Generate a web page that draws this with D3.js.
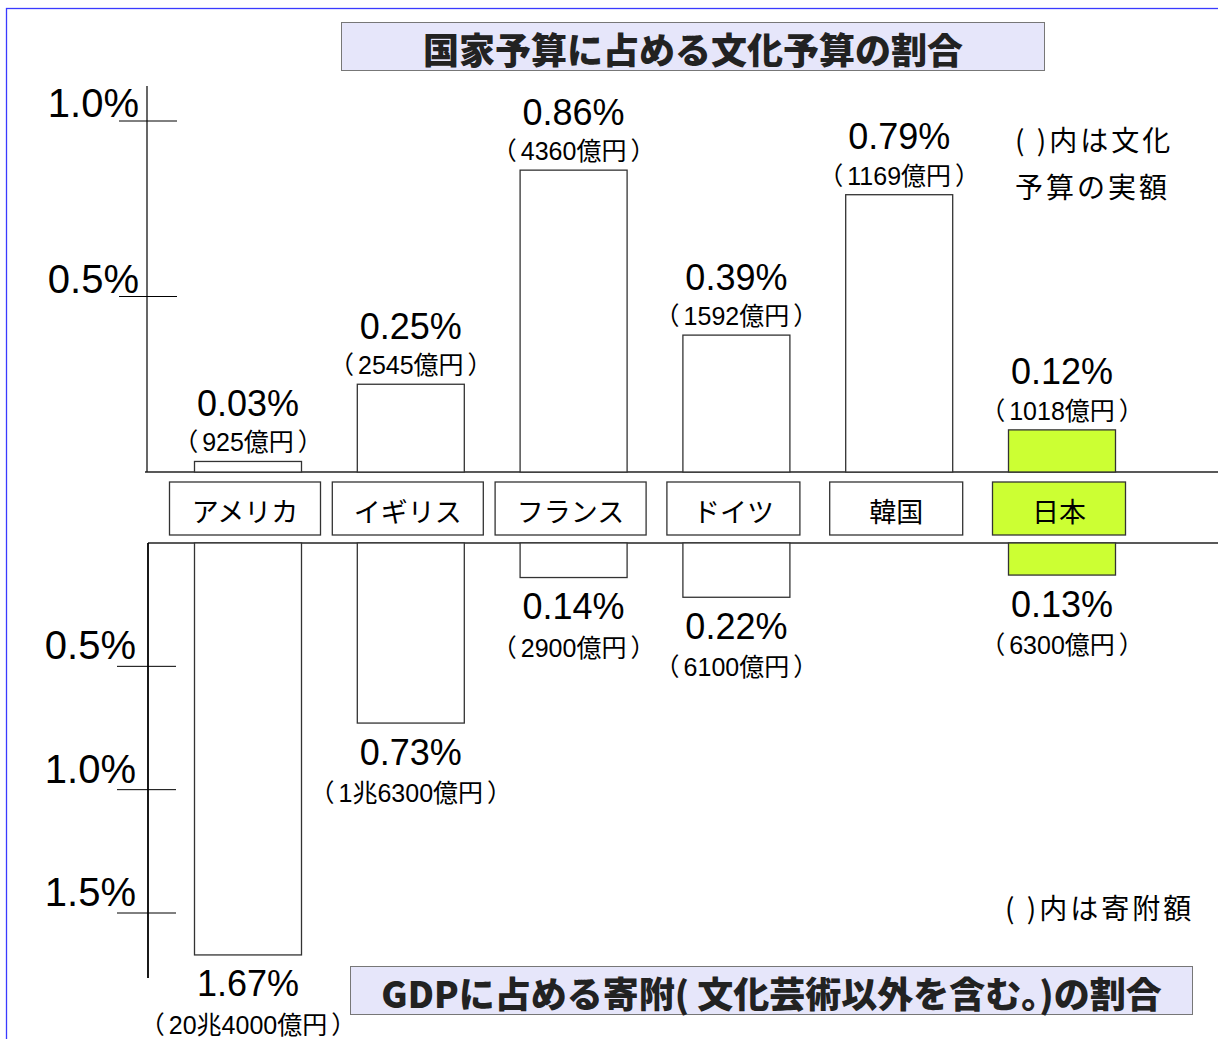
<!DOCTYPE html>
<html>
<head>
<meta charset="utf-8">
<script src="https://cdn.jsdelivr.net/npm/d3@7"></script>
<style>
  body { margin: 0; background: #fff; }
  text { font-family: "Liberation Sans", "Noto Sans CJK JP", sans-serif; }
</style>
</head>
<body>
<div id="chart"></div>
<script>
// data
const countries = ['アメリカ', 'イギリス', 'フランス', 'ドイツ', '韓国', '日本'];
const budgetShare = [0.03, 0.25, 0.86, 0.39, 0.79, 0.12];
const budgetAmount = ['925億円', '2545億円', '4360億円', '1592億円', '1169億円', '1018億円'];
const donationShare = [1.67, 0.73, 0.14, 0.22, null, 0.13];
const donationAmount = ['20兆4000億円', '1兆6300億円', '2900億円', '6100億円', null, '6300億円'];
const topTicks = [0.5, 1.0];
const bottomTicks = [0.5, 1.0, 1.5];
const highlight = '日本';

const width = 1218, height = 1039;
const jp = '"Noto Sans CJK JP", sans-serif';

const svg = d3.select('#chart').append('svg')
    .attr('width', width).attr('height', height);

// outer blue frame
svg.append('rect')
    .attr('x', 6.5).attr('y', 8.5)
    .attr('width', width).attr('height', height)
    .attr('fill', 'none').attr('stroke', '#3a3aff').attr('stroke-width', 1.3);

const x = d3.scalePoint().domain(countries).range([248, 1062]);
const barW = 107;
const yTop = d3.scaleLinear().domain([0, 1]).range([472, 121]);
const yBot = d3.scaleLinear().domain([0, 1.5]).range([543, 913]);

const fillOf = c => c === highlight ? '#ccff33' : '#fff';

// "(amount)" label with a little air inside the brackets
function amountLabel(sel) {
    sel.append('tspan').text('（');
    sel.append('tspan').attr('dx', 4).text(d => d);
    sel.append('tspan').attr('dx', 4).text('）');
}

// title boxes
function titleBox(x0, y0, w, h, label) {
    svg.append('rect').attr('x', x0).attr('y', y0).attr('width', w).attr('height', h)
        .attr('fill', '#e6e6fa').attr('stroke', '#777').attr('stroke-width', 1);
    svg.append('text').attr('x', x0 + w / 2).attr('y', y0 + h / 2 + 1)
        .attr('text-anchor', 'middle').attr('dominant-baseline', 'central')
        .style('font-family', jp).style('font-weight', 900)
        .attr('font-size', 36).attr('fill', '#222').text(label);
}
titleBox(341.5, 22.5, 703, 48, '国家予算に占める文化予算の割合');
titleBox(350.5, 966.5, 842, 48, 'GDPに占める寄附( 文化芸術以外を含む。)の割合');

// ----- top half: budget -----
svg.append('line').attr('x1', 147).attr('x2', 147).attr('y1', 86).attr('y2', yTop(0))
    .attr('stroke', '#000').attr('stroke-width', 1.2);
svg.append('line').attr('x1', 145).attr('x2', width).attr('y1', yTop(0)).attr('y2', yTop(0))
    .attr('stroke', '#222').attr('stroke-width', 1.5);

const tTop = svg.append('g').selectAll('g').data(topTicks).enter().append('g');
tTop.append('line').attr('x1', 119).attr('x2', 177)
    .attr('y1', d => yTop(d)).attr('y2', d => yTop(d))
    .attr('stroke', '#000').attr('stroke-width', 1);
tTop.append('text').attr('x', 139).attr('y', d => yTop(d) - 4)
    .attr('text-anchor', 'end').attr('font-size', 40)
    .text(d => d.toFixed(1) + '%');

const gTop = svg.append('g').selectAll('g').data(countries).enter().append('g');
gTop.append('rect')
    .attr('x', d => x(d) - barW / 2)
    .attr('y', (d, i) => yTop(budgetShare[i]))
    .attr('width', barW)
    .attr('height', (d, i) => yTop(0) - yTop(budgetShare[i]))
    .attr('fill', fillOf).attr('stroke', '#333').attr('stroke-width', 1.3);
gTop.append('text')
    .attr('x', d => x(d))
    .attr('y', (d, i) => yTop(budgetShare[i]) - 58)
    .attr('text-anchor', 'middle').attr('dominant-baseline', 'central')
    .attr('font-size', 36)
    .text((d, i) => budgetShare[i].toFixed(2) + '%');
gTop.append('text')
    .datum((d, i) => budgetAmount[i])
    .attr('x', (d, i) => x(countries[i]))
    .attr('y', (d, i) => yTop(budgetShare[i]) - 19)
    .attr('text-anchor', 'middle').attr('dominant-baseline', 'central')
    .attr('font-size', 25)
    .call(amountLabel);

// ----- category boxes -----
const gCat = svg.append('g').selectAll('g').data(countries).enter().append('g');
const boxW = d => d.length >= 4 ? 151 : 133;
gCat.append('rect')
    .attr('x', d => x(d) - boxW(d) / 2 - 3)
    .attr('y', 482).attr('width', boxW).attr('height', 53)
    .attr('fill', fillOf).attr('stroke', '#333').attr('stroke-width', 1.3);
gCat.append('text')
    .attr('x', d => x(d) - 3).attr('y', 510)
    .attr('text-anchor', 'middle').attr('dominant-baseline', 'central')
    .style('font-family', jp).attr('font-size', 27)
    .text(d => d);

// ----- bottom half: donations -----
svg.append('line').attr('x1', 148).attr('x2', width).attr('y1', yBot(0)).attr('y2', yBot(0))
    .attr('stroke', '#222').attr('stroke-width', 1.5);
svg.append('line').attr('x1', 148).attr('x2', 148).attr('y1', yBot(0)).attr('y2', 978)
    .attr('stroke', '#000').attr('stroke-width', 1.8);

const tBot = svg.append('g').selectAll('g').data(bottomTicks).enter().append('g');
tBot.append('line').attr('x1', 117).attr('x2', 176)
    .attr('y1', d => yBot(d)).attr('y2', d => yBot(d))
    .attr('stroke', '#000').attr('stroke-width', 1);
tBot.append('text').attr('x', 136).attr('y', d => yBot(d) - 7)
    .attr('text-anchor', 'end').attr('font-size', 40)
    .text(d => d.toFixed(1) + '%');

const botData = countries.map((c, i) => ({ c, v: donationShare[i], a: donationAmount[i] }))
    .filter(d => d.v !== null);
const gBot = svg.append('g').selectAll('g').data(botData).enter().append('g');
gBot.append('rect')
    .attr('x', d => x(d.c) - barW / 2)
    .attr('y', yBot(0))
    .attr('width', barW)
    .attr('height', d => yBot(d.v) - yBot(0))
    .attr('fill', d => fillOf(d.c)).attr('stroke', '#333').attr('stroke-width', 1.3);
gBot.append('text')
    .attr('x', d => x(d.c))
    .attr('y', d => yBot(d.v) + 29)
    .attr('text-anchor', 'middle').attr('dominant-baseline', 'central')
    .attr('font-size', 36)
    .text(d => d.v.toFixed(2) + '%');
gBot.append('text')
    .attr('x', d => x(d.c))
    .attr('y', d => yBot(d.v) + 70)
    .attr('text-anchor', 'middle').attr('dominant-baseline', 'central')
    .attr('font-size', 25)
    .datum(d => d.a)
    .call(amountLabel);

// notes
const notes = [['(\u00a0)内は文化', 1015, 139], ['予算の実額', 1015, 186], ['(\u00a0)内は寄附額', 1005, 907]];
svg.append('g').selectAll('text').data(notes).enter().append('text')
    .attr('x', d => d[1]).attr('y', d => d[2])
    .attr('dominant-baseline', 'central')
    .style('font-family', jp).attr('font-size', 28).attr('letter-spacing', 3)
    .text(d => d[0]);
</script>
</body>
</html>
